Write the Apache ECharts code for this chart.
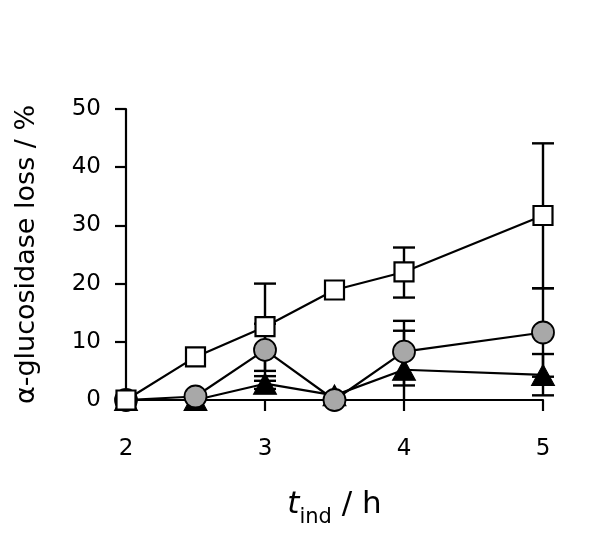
<!DOCTYPE html>
<html>
<head>
<meta charset="utf-8">
<script src="https://cdn.jsdelivr.net/npm/echarts@6/dist/echarts.min.js"></script>
<style>html,body{margin:0;padding:0;background:#fff;}#c{width:600px;height:544px;}</style>
</head>
<body>
<div id="c"></div>
<script>
// Data
const tInd = [2, 2.5, 3, 3.5, 4, 5];
const squareVals = [0, 7.4, 12.6, 18.9, 22.0, 31.7];
const circleVals = [0, 0.6, 8.6, 0, 8.3, 11.6];
const triangleVals = [0, 0, 2.8, 0.8, 5.2, 4.3];
// error bars: [low, high] or null
const squareErr = [null, null, [5.0, 20.0], null, [17.6, 26.2], [19.2, 44.1]];
const circleErr = [null, null, [4.1, 13.1], null, [2.5, 13.6], [4.0, 19.2]];
const triangleErr = [null, null, [1.9, 3.3], null, [-1.5, 11.9], [0.8, 7.9]];
const xTicks = [2, 3, 4, 5];
const yTicks = [0, 10, 20, 30, 40, 50];

const FONT = 'DejaVu Sans';
const Y_MIN = yTicks[0];

function pairs(xs, ys) { return xs.map((x, i) => [x, ys[i]]); }
function errData(xs, errs) {
  const out = [];
  errs.forEach((e, i) => { if (e) out.push([xs[i], e[0], e[1]]); });
  return out;
}
function errRender(params, api) {
  const x = api.value(0), hi = api.value(2);
  let lo = api.value(1);
  const clipped = lo < Y_MIN;
  if (clipped) lo = Y_MIN;
  const pLo = api.coord([x, lo]);
  const pHi = api.coord([x, hi]);
  const w = 11;
  const st = { stroke: '#000', lineWidth: 2.4 };
  const children = [
    { type: 'line', shape: { x1: pLo[0], y1: pLo[1], x2: pHi[0], y2: pHi[1] }, style: st },
    { type: 'line', shape: { x1: pHi[0] - w, y1: pHi[1], x2: pHi[0] + w, y2: pHi[1] }, style: st }
  ];
  if (!clipped) children.push({ type: 'line', shape: { x1: pLo[0] - w, y1: pLo[1], x2: pLo[0] + w, y2: pLo[1] }, style: st });
  return { type: 'group', children };
}
function errSeries(errs) {
  return {
    type: 'custom', renderItem: errRender, data: errData(tInd, errs),
    clip: false, silent: true, z: 1, encode: { x: 0, y: [1, 2] }
  };
}

const chart = echarts.init(document.getElementById('c'), null, { renderer: 'canvas' });
chart.setOption({
  animation: false,
  backgroundColor: '#fff',
  grid: { left: 126, right: 57, top: 109, bottom: 144 },
  xAxis: {
    type: 'value', min: xTicks[0], max: xTicks[xTicks.length - 1], interval: 1,
    axisLine: { lineStyle: { color: '#000', width: 2.2 } },
    axisTick: { show: true, length: 11, lineStyle: { color: '#000', width: 2.2 } },
    axisLabel: { color: '#000', fontFamily: FONT, fontSize: 23, margin: 38 },
    splitLine: { show: false },
    name: '{t|t}{s|ind}{n| / h}',
    nameLocation: 'middle', nameGap: 84,
    nameTextStyle: {
      rich: {
        t: { fontFamily: FONT, fontStyle: 'italic', fontSize: 31, color: '#000', verticalAlign: 'bottom', lineHeight: 36 },
        s: { fontFamily: FONT, fontSize: 21, color: '#000', verticalAlign: 'bottom', lineHeight: 26, padding: [0, 0, -8, 0] },
        n: { fontFamily: FONT, fontSize: 31, color: '#000', verticalAlign: 'bottom', lineHeight: 36 }
      }
    }
  },
  yAxis: {
    type: 'value', min: yTicks[0], max: yTicks[yTicks.length - 1], interval: 10,
    axisLine: { show: true, lineStyle: { color: '#000', width: 2.2 } },
    axisTick: { show: true, length: 11, lineStyle: { color: '#000', width: 2.2 } },
    axisLabel: { color: '#000', fontFamily: FONT, fontSize: 23, margin: 25 },
    splitLine: { show: false },
    name: 'α-glucosidase loss / %',
    nameLocation: 'middle', nameGap: 86, nameRotate: 90,
    nameTextStyle: { fontFamily: FONT, fontSize: 27, color: '#000' }
  },
  series: [
    errSeries(squareErr),
    errSeries(circleErr),
    errSeries(triangleErr),
    {
      type: 'line', data: pairs(tInd, triangleVals), clip: false, z: 3,
      symbol: 'triangle', symbolSize: [23, 21],
      itemStyle: { color: '#000', borderColor: '#000', borderWidth: 1 },
      lineStyle: { color: '#000', width: 2.2 }
    },
    {
      type: 'line', data: pairs(tInd, circleVals), clip: false, z: 4,
      symbol: 'circle', symbolSize: 22,
      itemStyle: { color: '#a8a8a8', borderColor: '#000', borderWidth: 1.8 },
      lineStyle: { color: '#000', width: 2.2 }
    },
    {
      type: 'line', data: pairs(tInd, squareVals), clip: false, z: 5,
      symbol: 'rect', symbolSize: 19,
      itemStyle: { color: '#fff', borderColor: '#000', borderWidth: 2.2 },
      lineStyle: { color: '#000', width: 2.2 }
    }
  ]
});
</script>
</body>
</html>
